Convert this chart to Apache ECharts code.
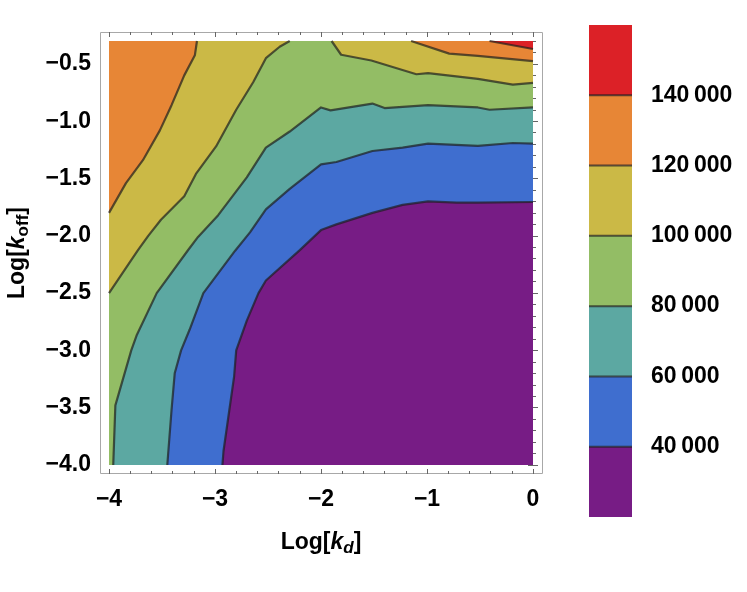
<!DOCTYPE html>
<html>
<head>
<meta charset="utf-8">
<script src="https://cdn.jsdelivr.net/npm/echarts@6/dist/echarts.min.js"></script>
<style>
html, body { margin: 0; padding: 0; background: #fff; }
#chart { width: 747px; height: 592px; }
</style>
</head>
<body>
<div id="chart"></div>
<script>
// contour levels and band colours (lowest band first)
var levels = [20000, 40000, 60000, 80000, 100000, 120000, 140000, 160000];
var bandColors = ['#771c85', '#3f6ecf', '#5ca8a2', '#93bd65', '#cbb946', '#e78636', '#dc2127'];
var colorTicks = [40000, 60000, 80000, 100000, 120000, 140000];

// axis ranges
var xRange = [-4, 0];
var yRange = [-4, -0.3];
var yTicks = [-4, -3.5, -3, -2.5, -2, -1.5, -1, -0.5];

// contour lines, [Log kd, Log koff]
var c40 = [[0, -1.705], [-0.52, -1.71], [-0.72, -1.71], [-0.99, -1.70], [-1.23, -1.73], [-1.515, -1.80],
  [-1.855, -1.90], [-2.0, -1.95], [-2.2, -2.125], [-2.52, -2.39], [-2.59, -2.50], [-2.70, -2.74],
  [-2.80, -3.0], [-2.82, -3.23], [-2.92, -3.88], [-2.93, -4.0]];
var c60 = [[0, -1.195], [-0.19, -1.19], [-0.52, -1.216], [-0.99, -1.195], [-1.23, -1.23], [-1.515, -1.26],
  [-1.855, -1.356], [-2.0, -1.376], [-2.295, -1.59], [-2.52, -1.77], [-2.67, -1.97], [-2.81, -2.13],
  [-3.11, -2.50], [-3.24, -2.82], [-3.32, -3.0], [-3.38, -3.20], [-3.41, -3.52], [-3.45, -4.0]];
var c80 = [[0, -0.88], [-0.41, -0.90], [-0.52, -0.88], [-0.99, -0.86], [-1.40, -0.885], [-1.515, -0.846],
  [-1.91, -0.905], [-2.0, -0.88], [-2.295, -1.09], [-2.52, -1.23], [-2.70, -1.49], [-2.97, -1.82],
  [-3.16, -2.01], [-3.255, -2.126], [-3.55, -2.50], [-3.74, -2.87], [-3.79, -3.0], [-3.94, -3.48], [-3.96, -4.0]];
var c100a = [[-2.295, -0.3], [-2.39, -0.35], [-2.52, -0.45], [-2.64, -0.66], [-2.80, -0.90], [-2.99, -1.22],
  [-3.18, -1.46], [-3.29, -1.655], [-3.51, -1.86], [-3.63, -2.0], [-3.73, -2.13], [-4, -2.5]];
var c100b = [[-1.90, -0.3], [-1.81, -0.42], [-1.525, -0.47], [-1.10, -0.59], [-0.99, -0.58], [-0.52, -0.63],
  [-0.19, -0.68], [0, -0.665]];
var c120a = [[-3.17, -0.3], [-3.19, -0.425], [-3.29, -0.60], [-3.41, -0.86], [-3.52, -1.08], [-3.68, -1.34],
  [-3.84, -1.54], [-4, -1.80]];
var c120b = [[-1.15, -0.3], [-0.79, -0.41], [-0.52, -0.43], [0, -0.475]];
var c140 = [[-0.41, -0.3], [0, -0.37]];

// plot corners used to close the filled regions
var TL = [xRange[0], yRange[1]], TR = [xRange[1], yRange[1]];
var BL = [xRange[0], yRange[0]], BR = [xRange[1], yRange[0]];

// filled regions, drawn in order (value >= level)
var regions = [
  { band: 0, line: [], corners: [BR, BL, TL, TR] },
  { band: 1, line: c40, corners: [BL, TL, TR] },
  { band: 2, line: c60, corners: [BL, TL, TR] },
  { band: 3, line: c80, corners: [BL, TL, TR] },
  { band: 4, line: c100a, corners: [TL] },
  { band: 4, line: c100b, corners: [TR] },
  { band: 5, line: c120a, corners: [TL] },
  { band: 5, line: c120b, corners: [TR] },
  { band: 6, line: c140, corners: [TR] }
];
var contours = [c40, c60, c80, c100a, c100b, c120a, c120b, c140];

var lineColor = 'rgba(30,30,30,0.7)';
var font = 'Liberation Sans, Arial, sans-serif';
var minus = function (s) { return String(s).replace('-', '\u2212'); };

var chart = echarts.init(document.getElementById('chart'));

// main plot frame axes: major + minor ticks on all four sides
function frameAxis(pos, range, interval, tickLen, label) {
  return {
    gridIndex: 0, type: 'value', position: pos, offset: 9,
    min: range[0], max: range[1], interval: interval,
    axisLine: { show: false },
    splitLine: { show: false },
    axisTick: { show: true, inside: true, length: tickLen, lineStyle: { color: '#666', width: 1 } },
    axisLabel: label || { show: false }
  };
}

var xLabel = { show: true, fontSize: 23, fontWeight: 'bold', color: '#000', fontFamily: font, margin: 14,
  formatter: function (v) { return minus(v); } };
var yLabel = { show: true, fontSize: 23, fontWeight: 'bold', color: '#000', fontFamily: font, margin: 9,
  customValues: yTicks, formatter: function (v) { return minus(v.toFixed(1)); } };

var titleRich = {
  n: { fontSize: 23, fontWeight: 'bold', color: '#000', fontFamily: font, lineHeight: 28 },
  k: { fontSize: 23, fontWeight: 'bold', fontStyle: 'italic', color: '#000', fontFamily: font, lineHeight: 28 }
};

var xMain = frameAxis('bottom', xRange, 1, 5, xLabel);
xMain.name = '{n|Log[}{k|k}{s|d}{n|]}';
xMain.nameLocation = 'middle';
xMain.nameGap = 55;
xMain.nameTextStyle = { rich: Object.assign({
  s: { fontSize: 17, fontWeight: 'bold', fontStyle: 'italic', color: '#000', fontFamily: font, lineHeight: 17, verticalAlign: 'bottom' }
}, titleRich) };

var yMain = frameAxis('left', yRange, 0.5, 5, yLabel);
yMain.axisTick.customValues = yTicks;
yMain.name = '{n|Log[}{k|k}{s|off}{n|]}';
yMain.nameLocation = 'middle';
yMain.nameRotate = 90;
yMain.nameGap = 68;
yMain.nameTextStyle = { rich: Object.assign({
  s: { fontSize: 17, fontWeight: 'bold', color: '#000', fontFamily: font, lineHeight: 17, verticalAlign: 'bottom' }
}, titleRich) };

var yRight = frameAxis('right', yRange, 0.5, 5);
yRight.axisTick.customValues = yTicks;

var option = {
  animation: false,
  textStyle: { fontFamily: font },
  grid: [
    { left: 109, top: 41, width: 424, height: 424, outerBoundsMode: 'none' },
    { left: 589, top: 25, width: 43, height: 492, outerBoundsMode: 'none' }
  ],
  graphic: [{
    type: 'rect', silent: true, z: 0,
    shape: { x: 100.5, y: 32.5, width: 442, height: 441 },
    style: { fill: null, stroke: '#a8a8a8', lineWidth: 1 }
  }],
  xAxis: [
    xMain,
    frameAxis('bottom', xRange, 0.2, 3),
    frameAxis('top', xRange, 1, 5),
    frameAxis('top', xRange, 0.2, 3),
    { gridIndex: 1, type: 'value', min: 0, max: 1, show: false }
  ],
  yAxis: [
    yMain,
    frameAxis('left', yRange, 0.1, 3),
    yRight,
    frameAxis('right', yRange, 0.1, 3),
    {
      gridIndex: 1, type: 'value', position: 'right', min: 20000, max: 160000, interval: 20000,
      axisLine: { show: false }, splitLine: { show: false },
      axisTick: { show: true, length: 10, customValues: colorTicks, lineStyle: { color: '#e2e2e2' } },
      axisLabel: {
        show: true, customValues: colorTicks, fontSize: 23, fontWeight: 'bold', color: '#000',
        fontFamily: font, margin: 19,
        formatter: function (v) { return String(v / 1000) + '\u2009000'; }
      }
    }
  ],
  series: [
    {
      // filled bands
      type: 'custom', xAxisIndex: 0, yAxisIndex: 0, silent: true,
      data: regions.map(function (r, i) { return [i]; }),
      renderItem: function (params, api) {
        var r = regions[params.dataIndex];
        var pts = r.line.concat(r.corners).map(function (p) { return api.coord(p); });
        return { type: 'polygon', shape: { points: pts }, style: { fill: bandColors[r.band] } };
      }
    },
    {
      // contour lines
      type: 'custom', xAxisIndex: 0, yAxisIndex: 0, silent: true, z: 3,
      data: contours.map(function (c, i) { return [i]; }),
      renderItem: function (params, api) {
        var pts = contours[params.dataIndex].map(function (p) { return api.coord(p); });
        return { type: 'polyline', shape: { points: pts },
          style: { fill: null, stroke: lineColor, lineWidth: 2.2, lineJoin: 'round' } };
      }
    },
    {
      // colour bar
      type: 'custom', xAxisIndex: 4, yAxisIndex: 4, silent: true,
      data: bandColors.map(function (c, i) { return [i]; }),
      renderItem: function (params, api) {
        var i = params.dataIndex;
        var p1 = api.coord([0, levels[i + 1]]);
        var p2 = api.coord([1, levels[i]]);
        var kids = [{ type: 'rect', shape: { x: p1[0], y: p1[1], width: p2[0] - p1[0], height: p2[1] - p1[1] },
          style: { fill: bandColors[i] } }];
        if (i > 0) {
          kids.push({ type: 'line', shape: { x1: p1[0], y1: p2[1], x2: p2[0], y2: p2[1] },
            style: { stroke: lineColor, lineWidth: 2 } });
        }
        return { type: 'group', children: kids };
      }
    }
  ]
};

chart.setOption(option);
</script>
</body>
</html>
